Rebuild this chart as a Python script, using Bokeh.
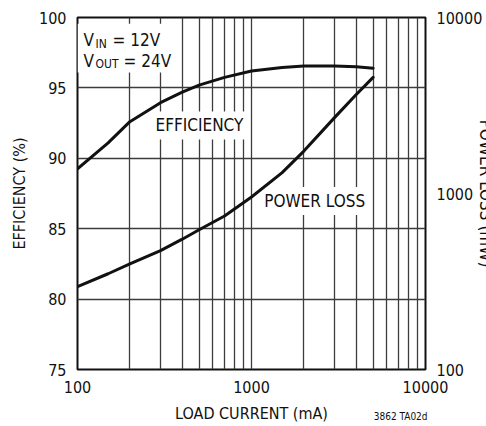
from bokeh.plotting import figure
from bokeh.models import (Range1d, LogScale, LinearAxis, LogAxis, FixedTicker,
                          BasicTickFormatter, Label, BoxAnnotation, Grid, Title)
from bokeh.embed import file_html
from bokeh.resources import INLINE

# ---- data ----
load_current = [100, 150, 200, 300, 400, 500, 700, 1000, 1500, 2000, 3000, 4000, 5000]   # mA
efficiency = [89.25, 91.1, 92.6, 93.95, 94.7, 95.2, 95.75, 96.2, 96.45, 96.55, 96.55, 96.5, 96.4]  # %
power_loss = [296, 350, 398, 474, 550, 622, 745, 955, 1314, 1742, 2698, 3648, 4570]  # mW

eff_ticks = [75, 80, 85, 90, 95, 100]
eff_grid = [80, 85, 90, 95]
current_ticks = [100, 1000, 10000]
current_grid = [200, 300, 400, 500, 600, 700, 800, 900, 1000,
                2000, 3000, 4000, 5000, 6000, 7000, 8000, 9000]
loss_ticks = [100, 1000, 10000]
figure_id = "3862 TA02d"
figure_id_at = 7200   # load-current position under which the figure id is centred

FONT = "'DejaVu Sans Condensed', 'DejaVu Sans', sans-serif"
BLACK = "#111111"
GRID = "#3c3c3c"

p = figure(width=486, height=426, x_axis_type=None, y_axis_type=None,
           x_range=Range1d(100, 10000), y_range=Range1d(75, 100),
           output_backend="svg", toolbar_location=None,
           min_border_left=77, min_border_right=58, min_border_top=17, min_border_bottom=57)
p.x_scale = LogScale()
p.extra_y_ranges = {"loss": Range1d(100, 10000)}
p.extra_y_scales = {"loss": LogScale()}

p.outline_line_color = BLACK
p.outline_line_width = 2
p.background_fill_color = "white"
p.border_fill_color = "white"


def style_axis(ax, size="16px"):
    ax.axis_line_color = None
    ax.major_tick_line_color = None
    ax.minor_tick_line_color = None
    ax.major_tick_out = 0
    ax.major_tick_in = 0
    ax.major_label_text_font = FONT
    ax.major_label_text_font_size = size
    ax.major_label_text_color = BLACK
    ax.axis_label_text_font = FONT
    ax.axis_label_text_font_size = "16px"
    ax.axis_label_text_font_style = "normal"
    ax.axis_label_text_color = BLACK


left = LinearAxis(ticker=FixedTicker(ticks=eff_ticks), axis_label="EFFICIENCY (%)")
style_axis(left)
left.major_label_standoff = 11
left.axis_label_standoff = 7
p.add_layout(left, "left")

bottom = LogAxis(ticker=FixedTicker(ticks=current_ticks),
                 formatter=BasicTickFormatter(use_scientific=False),
                 axis_label="LOAD CURRENT (mA)")
style_axis(bottom)
bottom.major_label_standoff = 11
bottom.axis_label_standoff = 8
p.add_layout(bottom, "below")

# figure id, in the same band as the x-axis title (bottom right)
idaxis = LogAxis(ticker=FixedTicker(ticks=[figure_id_at]),
                 major_label_overrides={figure_id_at: figure_id})
style_axis(idaxis, size="10px")
idaxis.major_label_standoff = -15
p.add_layout(idaxis, "below")

right = LogAxis(y_range_name="loss", ticker=FixedTicker(ticks=loss_ticks),
                formatter=BasicTickFormatter(use_scientific=False))
style_axis(right)
right.major_label_standoff = 11
p.add_layout(right, "right")

# right-axis title, cut by the page edge as in the reference
p.add_layout(Title(text="POWER LOSS (mW)", align="center", vertical_align="middle",
                   text_font=FONT, text_font_size="17px", text_font_style="normal",
                   text_color=BLACK, standoff=-21), "right")

# grids
p.add_layout(Grid(dimension=0, ticker=FixedTicker(ticks=current_grid),
                  grid_line_color=GRID, grid_line_width=1.3))
p.add_layout(Grid(dimension=1, ticker=FixedTicker(ticks=eff_grid),
                  grid_line_color=GRID, grid_line_width=1.3))

# condition box (white background over the grid, under the curves)
p.add_layout(BoxAnnotation(left=100, right=360, top=99.55, bottom=96.1,
                           fill_color="white", fill_alpha=1, line_color=None,
                           level="underlay"))


def lab(text, x, y, dx, dy, size="17px", align="left", baseline="alphabetic", **kw):
    l = Label(x=x, y=y, x_offset=dx, y_offset=dy, text=text, text_font=FONT,
              text_font_size=size, text_color=BLACK, text_align=align,
              text_baseline=baseline, **kw)
    p.add_layout(l)
    return l


# V_IN = 12V / V_OUT = 24V  (anchored at the top-left corner of the frame)
lab("V", 100, 100, 6, -22)
lab("IN", 100, 100, 18, -26, size="12px")
lab("= 12V", 100, 100, 35, -22)
lab("V", 100, 100, 6, -43)
lab("OUT", 100, 100, 18, -46, size="12px")
lab("= 24V", 100, 100, 46, -43)

# curve labels with white background (below the curves)
lab("EFFICIENCY", 502, 92.33, 0, 0, align="center", baseline="middle",
    background_fill_color="white", padding=4, level="underlay")
lab("POWER LOSS", 2307, 86.97, 0, 0, align="center", baseline="middle",
    background_fill_color="white", padding=4, level="underlay")

# curves
p.line(load_current, efficiency, line_color=BLACK, line_width=3, line_join="round", line_cap="round")
p.line(load_current, power_loss, y_range_name="loss", line_color=BLACK, line_width=3,
       line_join="round", line_cap="round")

open("out.html", "w").write(file_html(p, INLINE))
